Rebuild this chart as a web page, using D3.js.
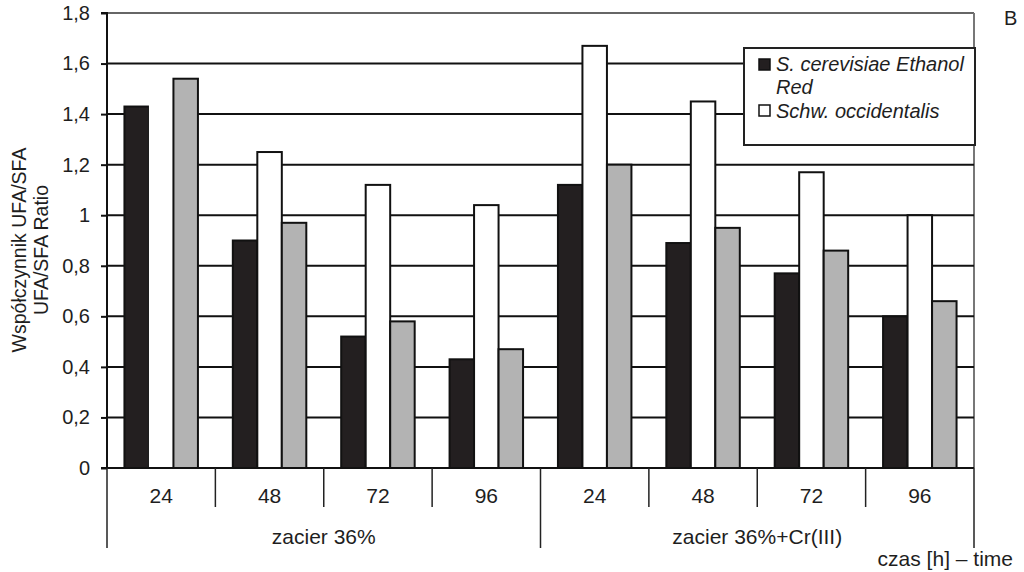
<!DOCTYPE html>
<html><head><meta charset="utf-8">
<script src="https://cdn.jsdelivr.net/npm/d3@7"></script>
<style>body{margin:0;background:#fff}svg{display:block}text{font-family:"Liberation Sans",Arial,sans-serif;fill:#1e1e1e}</style>
</head><body><svg id="c" width="1024" height="572"></svg>
<script>
const times = ["24","48","72","96","24","48","72","96"];
const groups = ["zacier 36%","zacier 36%+Cr(III)"];
const seriesNames = ["S. cerevisiae Ethanol Red","Schw. occidentalis","(trzecia seria)"];
const cerevisiae = [1.43,0.90,0.52,0.43,1.12,0.89,0.77,0.60];
const occidentalis = [1.50,1.25,1.12,1.04,1.67,1.45,1.17,1.00];
const third = [1.54,0.97,0.58,0.47,1.20,0.95,0.86,0.66];
const yTicks = [0,0.2,0.4,0.6,0.8,1,1.2,1.4,1.6,1.8];
const yTitle = ["Współczynnik UFA/SFA","UFA/SFA Ratio"];
const xTitle = "czas [h] – time";
const panel = "B";

const svg = d3.select("#c");
const L=107,R=974,T=13,B=468;
const y = d3.scaleLinear().domain([0,1.8]).range([B,T]);
const x = d3.scaleBand().domain(d3.range(times.length)).range([L,R]).paddingInner(0).paddingOuter(0);
const xs = d3.scaleBand().domain([0,1,2]).range([0,x.bandwidth()]).paddingInner(0).paddingOuter(0.712);
const colors = ["#231f20","#ffffff","#b3b3b3"];
const fmt = v => String(v).replace(".",",");

// top & right border
svg.append("line").attr("x1",L).attr("x2",R).attr("y1",T).attr("y2",T).attr("stroke","#666").attr("stroke-width",2);
svg.append("line").attr("x1",R).attr("x2",R).attr("y1",T).attr("y2",B).attr("stroke","#777").attr("stroke-width",2);
// gridlines
svg.append("g").selectAll("line").data(yTicks.filter(d=>d>0&&d<1.8)).join("line")
  .attr("x1",L).attr("x2",R).attr("y1",d=>y(d)).attr("y2",d=>y(d)).attr("stroke","#111").attr("stroke-width",2);

// bars
const data = [cerevisiae,occidentalis,third];
const bars = svg.append("g");
data.forEach((arr,s)=>{
  bars.selectAll(null).data(arr).join("rect")
    .attr("x",(d,i)=>x(i)+xs(s)).attr("width",xs.bandwidth())
    .attr("y",d=>y(d)).attr("height",d=>B-y(d))
    .attr("fill",colors[s])
    .attr("stroke",(d,i)=> (s===1&&i===0)?"none":"#111")
    .attr("stroke-width",2);
});

// y axis
const ya = svg.append("g").attr("transform",`translate(${L},0)`)
  .call(d3.axisLeft(y).tickValues(yTicks).tickFormat(fmt).tickSize(6).tickPadding(11));
ya.select(".domain").attr("stroke","#111").attr("stroke-width",2).attr("d",`M-6,${T}H0V${B}H-6`);
ya.selectAll(".tick line").attr("stroke","#111").attr("stroke-width",2);
ya.selectAll(".tick text").attr("font-size",20).attr("fill","#1e1e1e").style("font-family","Liberation Sans, Arial, sans-serif");

// x axis baseline
svg.append("line").attr("x1",L).attr("x2",R).attr("y1",B).attr("y2",B).attr("stroke","#111").attr("stroke-width",2);
// x dividers
const bounds = d3.range(times.length+1);
svg.append("g").selectAll("line").data(bounds).join("line")
  .attr("x1",i=> i<times.length? x(i): R).attr("x2",i=> i<times.length? x(i): R)
  .attr("y1",B).attr("y2",i=> i%4===0?548:507)
  .attr("stroke","#222").attr("stroke-width",1.5);
svg.append("g").selectAll("text").data(times).join("text")
  .attr("x",(d,i)=>x(i)+x.bandwidth()/2).attr("y",503).attr("text-anchor","middle")
  .attr("font-size",21).text(d=>d);
svg.append("g").selectAll("text").data(groups).join("text")
  .attr("x",(d,i)=>(x(i*4)+ (i===0? x(4): R))/2).attr("y",544).attr("text-anchor","middle")
  .attr("font-size",21).text(d=>d);
svg.append("text").attr("x",1013).attr("y",566).attr("text-anchor","end").attr("font-size",21).text(xTitle);
svg.append("text").attr("x",1004).attr("y",25).attr("font-size",20).text(panel);

// y title
const yt = svg.append("text").attr("transform",`translate(26,250) rotate(-90)`).attr("text-anchor","middle").attr("font-size",19.5);
yt.append("tspan").attr("x",0).attr("dy",0).text(yTitle[0]);
yt.append("tspan").attr("x",0).attr("dy",22).text(yTitle[1]);

// legend
const lg = svg.append("g");
lg.append("rect").attr("x",744).attr("y",48).attr("width",231).attr("height",97).attr("fill","#fff").attr("stroke","#222").attr("stroke-width",2);
lg.append("rect").attr("x",759).attr("y",59).attr("width",11).attr("height",11).attr("fill",colors[0]).attr("stroke","#111").attr("stroke-width",1.5);
lg.append("rect").attr("x",759).attr("y",105).attr("width",11).attr("height",11).attr("fill",colors[1]).attr("stroke","#111").attr("stroke-width",1.5);
const t1 = lg.append("text").attr("x",776).attr("y",71).attr("font-size",20).attr("font-style","italic");
t1.append("tspan").attr("x",776).text("S. cerevisiae Ethanol");
t1.append("tspan").attr("x",776).attr("dy",23).text("Red");
lg.append("text").attr("x",776).attr("y",118).attr("font-size",20).attr("font-style","italic").text(seriesNames[1]);
</script></body></html>
